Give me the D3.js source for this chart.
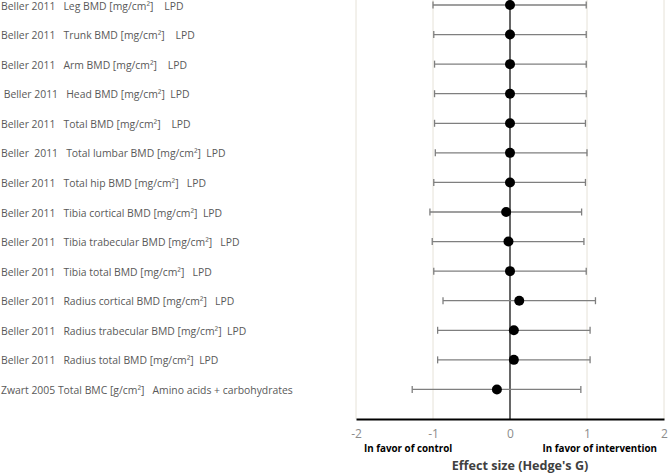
<!DOCTYPE html>
<html><head><meta charset="utf-8">
<script src="https://cdn.jsdelivr.net/npm/d3@7"></script>
<style>body{margin:0;background:#fff}svg{display:block}</style>
</head><body><svg id="c" width="668" height="474"></svg>
<script>
const labels = [
 "Beller 2011   Leg BMD [mg/cm²]    LPD",
 "Beller 2011   Trunk BMD [mg/cm²]    LPD",
 "Beller 2011   Arm BMD [mg/cm²]    LPD",
 " Beller 2011   Head BMD [mg/cm²]  LPD",
 "Beller 2011   Total BMD [mg/cm²]    LPD",
 "Beller  2011   Total lumbar BMD [mg/cm²]  LPD",
 "Beller 2011   Total hip BMD [mg/cm²]   LPD",
 "Beller 2011   Tibia cortical BMD [mg/cm²]  LPD",
 "Beller 2011   Tibia trabecular BMD [mg/cm²]   LPD",
 "Beller 2011   Tibia total BMD [mg/cm²]   LPD",
 "Beller 2011   Radius cortical BMD [mg/cm²]   LPD",
 "Beller 2011   Radius trabecular BMD [mg/cm²]  LPD",
 "Beller 2011   Radius total BMD [mg/cm²]  LPD",
 "Zwart 2005 Total BMC [g/cm²]   Amino acids + carbohydrates"
];
const effect = [0.00, 0.00, 0.00, 0.00, 0.00, 0.00, 0.00, -0.05, -0.02, 0.00, 0.12, 0.05, 0.05, -0.17];
const lower  = [-1.00, -0.99, -0.98, -0.98, -0.98, -0.97, -0.99, -1.04, -1.01, -0.99, -0.87, -0.94, -0.94, -1.27];
const upper  = [0.99, 0.99, 0.99, 0.99, 0.98, 1.00, 0.98, 0.93, 0.96, 0.99, 1.11, 1.04, 1.04, 0.92];
const xTicks = [-2, -1, 0, 1, 2];

const svg = d3.select("#c");
const x = d3.scaleLinear().domain([-2, 2]).range([356, 664]);
const y = d3.scaleLinear().domain([0, 14]).range([419, 5]);
const rowY = i => y(labels.length - i);

// gridlines
svg.append("g").selectAll("line").data(xTicks.filter(d => d !== 0)).join("line")
  .attr("x1", d => x(d)).attr("x2", d => x(d)).attr("y1", 0).attr("y2", 419)
  .attr("stroke", "#e6e2d8").attr("stroke-width", 1);

// zero line
svg.append("line").attr("x1", x(0)).attr("x2", x(0)).attr("y1", 0).attr("y2", 419)
  .attr("stroke", "#404040").attr("stroke-width", 1.6);

// error bars
const eb = svg.append("g").attr("stroke", "#7f7f7f").attr("stroke-width", 1.3);
labels.forEach((l, i) => {
  const yy = rowY(i);
  eb.append("line").attr("x1", x(lower[i])).attr("x2", x(upper[i])).attr("y1", yy).attr("y2", yy);
  eb.append("line").attr("x1", x(lower[i])).attr("x2", x(lower[i])).attr("y1", yy - 3.5).attr("y2", yy + 3.5);
  eb.append("line").attr("x1", x(upper[i])).attr("x2", x(upper[i])).attr("y1", yy - 3.5).attr("y2", yy + 3.5);
});

// points
svg.append("g").selectAll("circle").data(effect).join("circle")
  .attr("cx", d => x(d)).attr("cy", (d, i) => rowY(i)).attr("r", 5).attr("fill", "#000");

// bottom axis
const ax = svg.append("g").attr("transform", "translate(0,419)")
  .call(d3.axisBottom(x).tickValues(xTicks).tickSize(0).tickPadding(10).tickFormat(d => String(d)));
ax.select(".domain").attr("stroke", "#000").attr("stroke-width", 2);
ax.selectAll("text").attr("fill", "#8c8c8c").attr("font-family", "Open Sans, sans-serif").attr("font-size", 12);

// labels
svg.append("g").selectAll("text").data(labels).join("text")
  .attr("x", 1).attr("y", (d, i) => rowY(i) + 1).attr("dy", "0.35em")
  .attr("fill", "#595959").attr("font-family", "Open Sans, sans-serif").attr("font-size", 10.4)
  .style("white-space", "pre").text(d => d);

svg.append("text").attr("x", 364).attr("y", 452).attr("font-family", "Open Sans, sans-serif")
  .attr("font-weight", "bold").attr("font-size", 9.8).attr("fill", "#000").text("In favor of control");
svg.append("text").attr("x", 657).attr("y", 452).attr("text-anchor", "end").attr("font-family", "Open Sans, sans-serif")
  .attr("font-weight", "bold").attr("font-size", 9.8).attr("fill", "#000").text("In favor of intervention");
svg.append("text").attr("x", 520).attr("y", 470).attr("text-anchor", "middle").attr("font-family", "Open Sans, sans-serif")
  .attr("font-weight", "bold").attr("font-size", 12.6).attr("fill", "#404040").text("Effect size (Hedge's G)");
</script></body></html>
